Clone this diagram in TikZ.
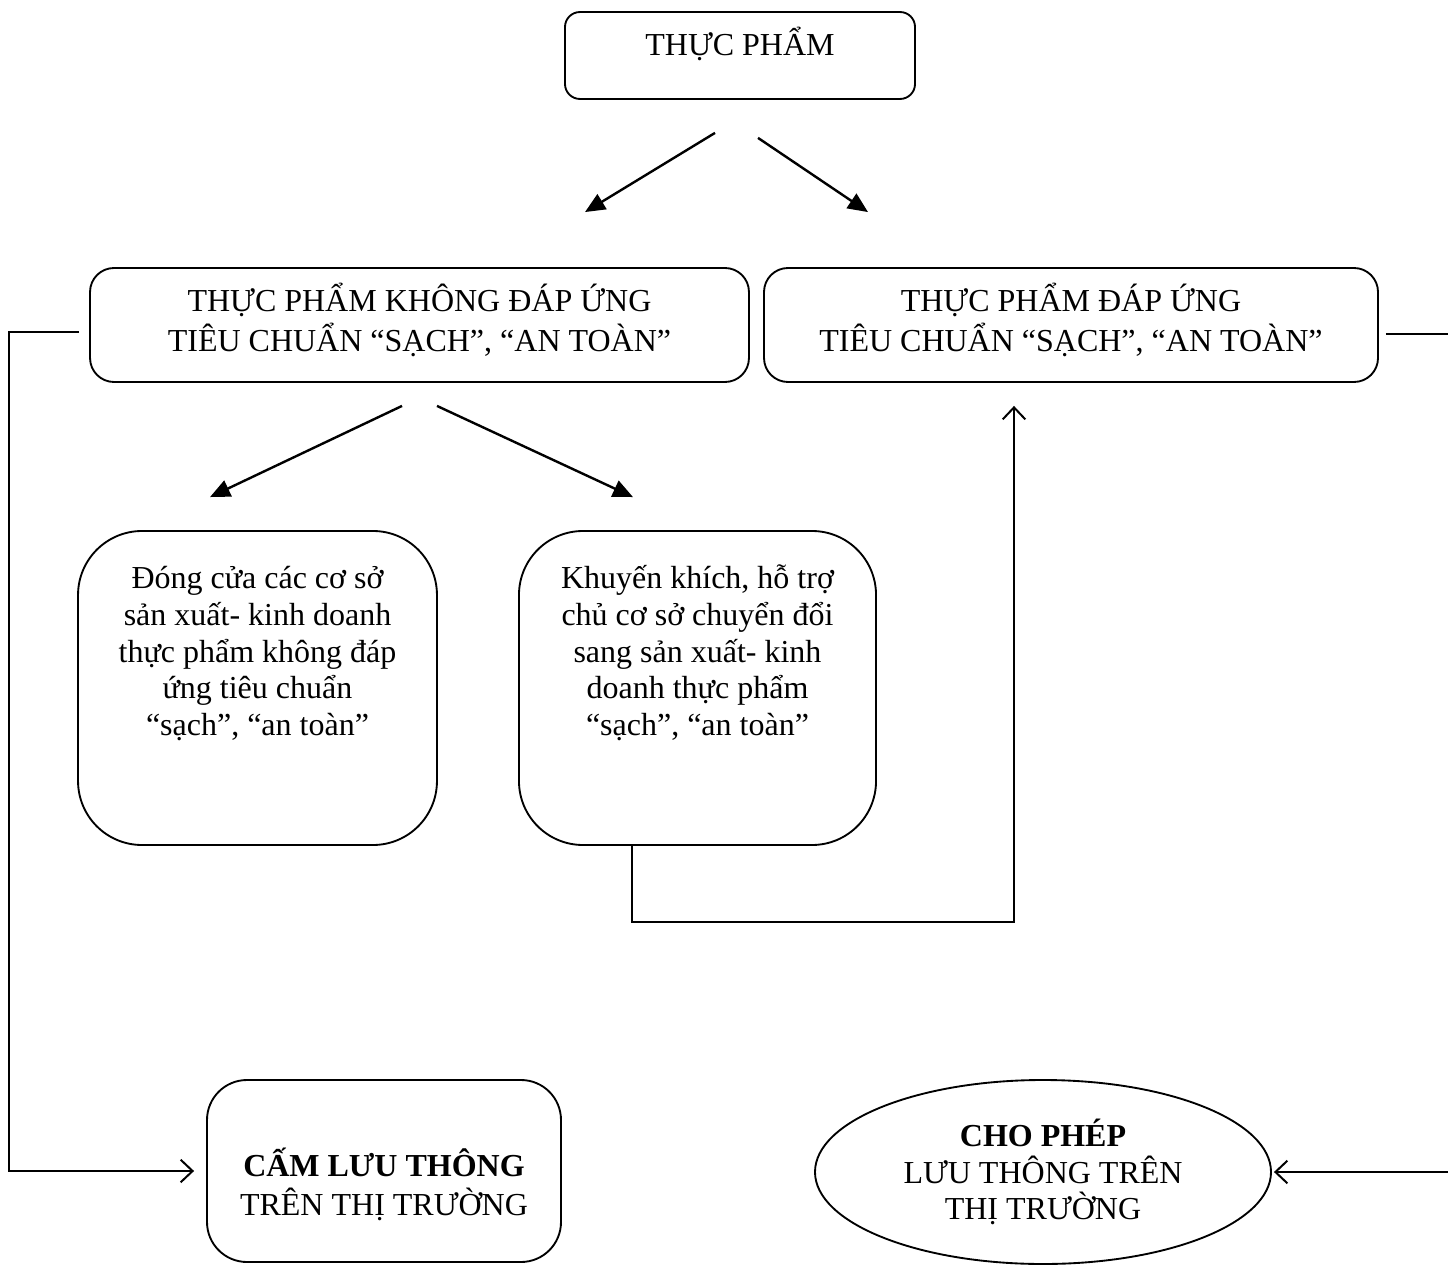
\documentclass[tikz,border=0pt]{standalone}
\usepackage{fontspec}
\setmainfont{Liberation Serif}
\usetikzlibrary{arrows.meta,calc,shapes.geometric}
\begin{document}
\begin{tikzpicture}[x=0.375pt,y=-0.375pt,
  font=\fontsize{12}{13.8}\selectfont,
  box/.style={draw,line width=0.7pt,align=center,inner sep=0pt},
  fa/.style={line width=0.9pt,-{Triangle[length=7.5pt,width=6.5pt]}},
  oa/.style={line width=0.7pt,-{Straight Barb[length=4.5pt,width=8.5pt,line width=0.75pt]}},
  ln/.style={line width=0.7pt}]
\useasboundingbox (0,0) rectangle (1448,1265);
\clip (0,0) rectangle (1448,1265);
\node[box,rounded corners=5.6pt,minimum width=131.25pt,minimum height=32.6pt] (top) at (740,55.5) {\raisebox{0pt}[0pt][0pt]{THỰC PHẨM}};
\node[box,rounded corners=9pt,minimum width=247.1pt,minimum height=42.75pt] (L) at (419.5,325)
  {\raisebox{-1pt}[0pt][0pt]{\parbox{245pt}{\centering THỰC PHẨM KHÔNG ĐÁP ỨNG\\[1.2pt]TIÊU CHUẨN “SẠCH”, “AN TOÀN”}}};
\node[box,rounded corners=9pt,minimum width=230.25pt,minimum height=42.75pt] (R) at (1071,325)
  {\raisebox{-1pt}[0pt][0pt]{\parbox{228pt}{\centering THỰC PHẨM ĐÁP ỨNG\\[1.2pt]TIÊU CHUẨN “SẠCH”, “AN TOÀN”}}};
\node[box,rounded corners=24pt,minimum width=134.6pt,minimum height=117.75pt] (dong) at (257.5,688)
  {\parbox[c][94pt][t]{130pt}{\centering\strut Đóng cửa các cơ sở\\sản xuất- kinh doanh\\thực phẩm không đáp\\ứng tiêu chuẩn\\“sạch”, “an toàn”}};
\node[box,rounded corners=24pt,minimum width=133.9pt,minimum height=117.75pt] (khuyen) at (697.5,688)
  {\parbox[c][94pt][t]{130pt}{\centering\strut Khuyến khích, hỗ trợ\\chủ cơ sở chuyển đổi\\sang sản xuất- kinh\\doanh thực phẩm\\“sạch”, “an toàn”}};
\node[box,rounded corners=15pt,minimum width=132.75pt,minimum height=68.25pt] (cam) at (384,1171)
  {\raisebox{-8pt}[0pt][0pt]{\parbox{130pt}{\centering\textbf{CẤM LƯU THÔNG}\\[0.8pt]TRÊN THỊ TRƯỜNG}}};
\node[box,ellipse,minimum width=171pt,minimum height=69pt] (ell) at (1043,1172)
  {\textbf{CHO PHÉP}\\LƯU THÔNG TRÊN\\THỊ TRƯỜNG};
% arrows
\draw[fa] ($(top.south)+(-25,33)$) -- ($(L.north)+(165.5,-55)$);
\draw[fa] ($(top.south)+(18,38)$) -- ($(R.north)+(-203,-55)$);
\draw[fa] ($(L.south)+(-17.5,23)$) -- ($(dong.north)+(-47.5,-33)$);
\draw[fa] ($(L.south)+(17.5,23)$) -- ($(khuyen.north)+(-64.5,-33)$);
% loops
\draw[oa] ($(khuyen.south west)+(114,0)$) -- ($(khuyen.south west)+(114,76)$) -| ($(R.south)+(-57,23)$);
\draw[oa] ($(L.west)+(-10,7)$) -- ++(-70,0) |- ($(cam.west)+(-12,0)$);
\draw[oa] ($(R.east)+(7,9)$) -- ++(90,0) |- ($(ell.east)+(2,0)$);
\end{tikzpicture}
\end{document}
